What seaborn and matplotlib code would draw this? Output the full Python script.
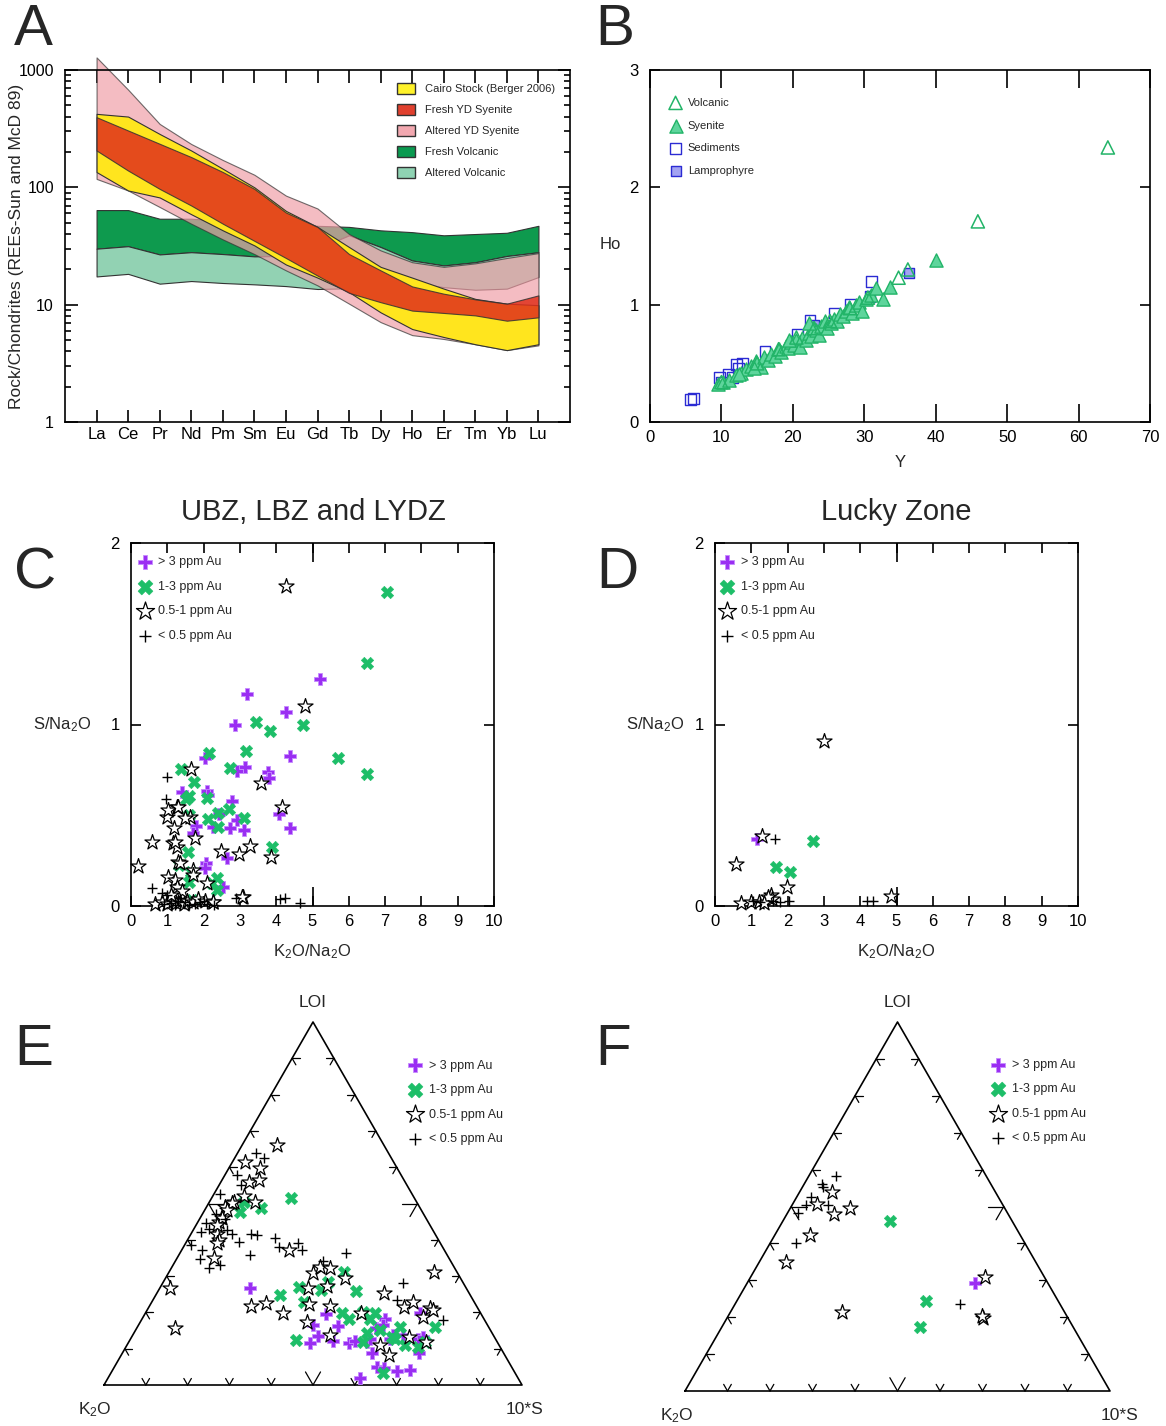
import numpy as np
import pandas as pd
import matplotlib.pyplot as plt
from matplotlib.patches import Patch
import seaborn as sns

# ---------------------------------------------------------------
# Panel A : REE envelopes (chondrite normalised), lower / upper bounds
# ---------------------------------------------------------------
ree = ['La', 'Ce', 'Pr', 'Nd', 'Pm', 'Sm', 'Eu', 'Gd', 'Tb', 'Dy', 'Ho', 'Er', 'Tm', 'Yb', 'Lu']

cairo_hi = [423, 401, 285, 206, 144, 100, 63, 46, 31, 21, 17, 13.7, 11.2, 10.2, 9.9]
cairo_lo = [135, 94, 82, 59, 43, 32, 22, 17, 12.8, 8.6, 6.2, 5.3, 4.6, 4.1, 4.6]
fresh_syen_hi = [396, 305, 235, 181, 135, 97, 61, 46, 27, 19.6, 14.3, 12.4, 11.1, 10.2, 12.0]
fresh_syen_lo = [206, 139, 97, 70, 49, 35, 25, 17.7, 12.6, 10.5, 8.9, 8.5, 8.1, 7.3, 7.8]
alt_syen_hi = [1280, 680, 347, 234, 171, 128, 85, 66, 40, 29, 23, 21, 22.5, 25, 27.5]
alt_syen_lo = [118, 94, 68, 49, 36, 27, 19.6, 14.6, 10.2, 7.1, 5.5, 5.1, 4.6, 4.1, 4.5]
fresh_volc_hi = [64, 64, 54, 54, 52, 51, 49, 47, 46, 43, 41.5, 39, 40, 41, 47]
fresh_volc_lo = [30, 31.5, 26.8, 28, 27, 25.8, 26, 30, 39, 31, 23.8, 21.6, 23, 26, 28]
alt_volc_hi = [30, 31.5, 26.8, 28, 27, 25.8, 26, 30, 39, 31, 23.8, 21.6, 23, 26, 28]
alt_volc_lo = [17.4, 18.3, 15.1, 15.9, 15.3, 14.9, 14.4, 13.6, 13.8, 14.1, 15.6, 14.1, 13.4, 13.7, 17.2]

# ---------------------------------------------------------------
# Panel B : Ho vs Y
# ---------------------------------------------------------------
volc_y = [64.1, 45.9, 34.8, 36.1, 30.5, 25.2, 15.0, 10.0, 20.5, 28.0, 23.0, 18.0]
volc_ho = [2.34, 1.71, 1.23, 1.30, 1.06, 0.86, 0.50, 0.34, 0.72, 0.97, 0.80, 0.62]
syen_y = [9.5, 10.2, 11, 12, 12.8, 13.5, 14.2, 14.8, 15.5, 16, 16.5, 17, 17.5, 18, 18.4,
          19, 19.3, 19.8, 20.2, 20.5, 21, 21.3, 21.8, 22.2, 22.5, 22.8, 23.2, 23.6, 24, 24.5,
          24.8, 25.3, 25.8, 26.2, 26.6, 27, 27.5, 27.9, 28.3, 28.8, 29.3, 29.7, 30.2, 31, 31.6,
          32.6, 33.6, 40.0, 22.3, 19.5, 12.5, 14.5]
syen_ho = [0.32, 0.34, 0.36, 0.40, 0.42, 0.45, 0.48, 0.52, 0.47, 0.55, 0.53, 0.58, 0.56, 0.62, 0.60,
           0.65, 0.63, 0.68, 0.66, 0.70, 0.64, 0.72, 0.70, 0.76, 0.73, 0.80, 0.78, 0.74, 0.82, 0.86,
           0.80, 0.84, 0.88, 0.86, 0.92, 0.90, 0.95, 0.98, 0.93, 1.00, 1.02, 0.95, 1.05, 1.08, 1.14,
           1.05, 1.15, 1.38, 0.84, 0.70, 0.41, 0.46]
sed_y = [5.7, 6.1, 9.7, 10.0, 11.0, 12.1, 12.9, 12.4, 16.1, 20.6, 22.4, 25.8, 28.1, 30.8, 31.0, 11.5]
sed_ho = [0.19, 0.20, 0.38, 0.34, 0.41, 0.49, 0.50, 0.46, 0.60, 0.75, 0.87, 0.93, 1.00, 1.07, 1.20, 0.38]
lamp_y = [36.2, 22.9]
lamp_ho = [1.27, 0.83]

# ---------------------------------------------------------------
# Panel C : UBZ, LBZ and LYDZ  (K2O/Na2O vs S/Na2O)
# ---------------------------------------------------------------
c_gt3_x = [5.21, 3.20, 4.27, 2.87, 4.39, 2.04, 3.13, 2.93, 3.77, 3.81, 1.40, 2.10, 2.13, 2.78,
           4.08, 4.39, 2.42, 2.93, 3.11, 2.74, 2.25, 1.79, 1.72, 2.64, 2.07, 2.04, 2.54]
c_gt3_y = [1.249, 1.170, 1.071, 0.995, 0.826, 0.814, 0.768, 0.744, 0.740, 0.703, 0.630, 0.635,
           0.612, 0.580, 0.505, 0.428, 0.507, 0.474, 0.419, 0.432, 0.433, 0.441, 0.404, 0.266,
           0.239, 0.208, 0.107]
c_1to3_x = [7.04, 6.51, 3.44, 3.83, 4.74, 3.16, 2.15, 5.71, 6.49, 1.38, 2.73, 1.74, 1.61, 1.52,
            2.10, 2.71, 2.41, 1.61, 3.11, 2.13, 2.41, 3.89, 1.56, 1.33, 1.64, 1.61, 2.36, 2.22,
            2.36, 1.67]
c_1to3_y = [1.732, 1.341, 1.012, 0.966, 0.997, 0.854, 0.841, 0.817, 0.725, 0.757, 0.762, 0.685,
            0.606, 0.588, 0.593, 0.533, 0.511, 0.501, 0.483, 0.477, 0.437, 0.327, 0.299, 0.226,
            0.189, 0.134, 0.152, 0.125, 0.088, 0.033]
c_half_x = [4.26, 4.78, 3.58, 1.64, 4.15, 1.26, 0.98, 1.18, 1.63, 0.57, 1.17, 1.26, 1.76, 2.47,
            2.98, 3.29, 3.85, 0.18, 1.30, 1.72, 1.03, 1.21, 3.09, 1.03, 1.30, 1.49, 1.21, 1.35,
            1.72, 2.08, 1.26, 0.65, 0.85, 1.00, 1.15, 1.25, 1.35, 1.45, 1.55, 1.70, 1.85, 2.05,
            2.25, 1.10, 1.40, 3.05, 2.27]
c_half_y = [1.763, 1.102, 0.676, 0.757, 0.547, 0.547, 0.492, 0.428, 0.492, 0.354, 0.345, 0.327,
            0.373, 0.305, 0.285, 0.331, 0.272, 0.220, 0.244, 0.198, 0.162, 0.143, 0.048, 0.529,
            0.547, 0.483, 0.355, 0.235, 0.171, 0.125, 0.107, 0.010, 0.020, 0.010, 0.030, 0.015,
            0.020, 0.010, 0.030, 0.020, 0.040, 0.030, 0.020, 0.060, 0.080, 0.050, 0.024]
c_low_x = [0.98, 0.96, 0.59, 0.85, 2.89, 4.10, 4.25, 4.66, 0.90, 1.10, 1.20, 1.30, 1.50, 1.60,
           1.75, 1.90, 2.10, 2.30, 1.35, 2.00, 0.98]
c_low_y = [0.711, 0.588, 0.097, 0.070, 0.042, 0.037, 0.042, 0.018, 0.010, 0.015, 0.005, 0.030,
           0.020, 0.005, 0.010, 0.020, 0.010, 0.005, 0.045, 0.030, 0.061]

# ---------------------------------------------------------------
# Panel D : Lucky Zone
# ---------------------------------------------------------------
d_gt3_x = [1.17]
d_gt3_y = [0.367]
d_1to3_x = [2.69, 1.68, 2.07]
d_1to3_y = [0.358, 0.216, 0.185]
d_half_x = [3.00, 1.29, 0.58, 1.97, 1.53, 4.84, 0.73, 1.00, 1.20, 1.56, 1.45, 1.35]
d_half_y = [0.909, 0.386, 0.230, 0.103, 0.060, 0.055, 0.019, 0.020, 0.020, 0.037, 0.050, 0.015]
d_low_x = [1.65, 2.04, 1.79, 4.18, 4.36, 1.06, 1.25, 1.60]
d_low_y = [0.367, 0.028, 0.024, 0.030, 0.028, 0.028, 0.020, 0.025]

# ---------------------------------------------------------------
# Panels E, F : ternary K2O - LOI - 10*S (percent; K2O = 100 - LOI - 10*S)
# ---------------------------------------------------------------
e_gt3_loi = [26.8, 19.5, 16.5, 16.2, 13.5, 11.7, 12.2, 11.7, 12.2, 11.9, 8.9, 15.6, 18.3, 16.5,
             19.9, 12.6, 8.7, 13.8, 5.0, 4.6, 3.9, 4.1, 2.0, 13.3, 12.8, 13.8, 12.6]
e_gt3_s = [21.6, 43.4, 41.7, 48.0, 44.4, 43.5, 48.6, 52.7, 54.0, 56.9, 59.6, 57.3, 58.1, 58.6,
           65.7, 68.9, 70.9, 64.7, 62.9, 64.7, 68.1, 71.1, 60.3, 69.7, 62.0, 62.3, 57.3]
e_1to3_loi = [51.4, 48.8, 50.5, 47.7, 31.2, 28.4, 27.1, 26.3, 26.0, 24.8, 22.9, 12.4, 19.7, 18.2,
              20.2, 19.7, 18.3, 14.2, 15.1, 13.3, 16.1, 11.0, 10.6, 16.1, 3.2, 12.6, 11.9, 11.9]
e_1to3_s = [19.0, 13.2, 8.2, 8.8, 41.9, 39.3, 33.0, 38.8, 47.3, 29.8, 36.5, 39.8, 47.2, 49.4,
            51.8, 55.0, 54.5, 55.7, 58.5, 62.2, 62.8, 66.5, 69.9, 71.2, 65.2, 63.3, 70.8, 56.1]
e_half_loi = [66.1, 61.5, 59.8, 55.8, 56.4, 52.1, 50.5, 50.5, 48.9, 45.0, 41.7, 39.9, 37.2, 34.9,
              26.6, 15.6, 21.7, 22.5, 19.7, 30.9, 32.4, 32.1, 29.6, 27.2, 26.6, 22.3, 21.7, 17.4,
              13.8, 19.7, 25.4, 11.0, 8.4, 31.2, 21.4, 22.9, 18.8, 21.1, 20.6, 11.9, 13.3,
              50.2, 48.2, 45.9, 44.0, 39.0]
e_half_s = [8.3, 3.1, 7.5, 6.7, 8.8, 7.4, 5.8, 10.8, 4.6, 5.0, 6.3, 7.6, 25.6, 8.9, 2.6, 9.3,
            24.2, 27.6, 33.0, 34.5, 35.5, 38.0, 42.9, 39.7, 35.6, 37.8, 43.1, 39.8, 47.2, 51.6,
            54.3, 60.5, 64.1, 63.4, 61.1, 62.4, 67.0, 67.5, 68.4, 71.1, 66.2,
            5.5, 5.3, 5.3, 5.1, 7.6]
e_low_loi = [63.8, 62.4, 57.8, 55.2, 52.5, 42.2, 43.1, 44.5, 38.5, 37.2, 34.7, 32.1, 33.0, 42.7,
             41.7, 39.4, 41.7, 41.3, 35.8, 40.4, 38.1, 39.2, 37.3, 36.4, 34.2, 28.2, 23.4, 17.9,
             45.6, 47.2]
e_low_s = [4.5, 7.0, 2.9, 5.2, 1.6, 2.0, 3.5, 2.1, 1.5, 4.9, 5.7, 9.0, 11.3, 8.1, 9.8, 12.5,
           14.2, 16.0, 17.1, 20.8, 22.8, 26.9, 28.7, 39.7, 35.4, 57.5, 58.3, 72.2, 6.2, 3.1]

f_gt3_loi = [29.2]
f_gt3_s = [53.6]
f_1to3_loi = [46.1, 24.5, 17.4]
f_1to3_s = [25.3, 44.4, 46.6]
f_half_loi = [53.9, 50.7, 47.9, 49.7, 42.3, 34.9, 21.3, 30.8, 19.8, 20.2]
f_half_s = [7.7, 5.6, 11.1, 14.0, 8.3, 6.3, 26.4, 55.2, 60.1, 59.8]
f_low_loi = [58.2, 56.2, 55.4, 52.7, 50.3, 50.5, 48.2, 40.2, 23.6]
f_low_s = [6.4, 4.2, 4.8, 3.3, 3.3, 8.3, 2.6, 5.9, 52.9]

au_labels = ['> 3 ppm Au', '1-3 ppm Au', '0.5-1 ppm Au', '< 0.5 ppm Au']

# ---------------------------------------------------------------
sns.set_style("ticks")
plt.rcParams['font.family'] = ['Liberation Sans', 'DejaVu Sans']
plt.rcParams['mathtext.default'] = 'regular'
plt.rcParams['axes.linewidth'] = 1.2
plt.rcParams['axes.edgecolor'] = 'black'
plt.rcParams['xtick.color'] = 'black'
plt.rcParams['ytick.color'] = 'black'

W, H = 1166, 1426
fig = plt.figure(figsize=(W / 100, H / 100), dpi=100)


def box(l, t, r, b):
    return [l / W, 1 - b / H, (r - l) / W, (b - t) / H]


AU_STYLE = [
    dict(marker='P', s=80, color='#9A2EF2', edgecolor='#C58CFF', linewidth=0.6),
    dict(marker='X', s=80, color='#1DBE68', edgecolor='#1DBE68', linewidth=0.4),
    dict(marker='*', s=130, color='white', edgecolor='black', linewidth=0.9),
    dict(marker='+', s=60, color='black', linewidth=1.0),
]


def plot_au(ax, groups):
    for (gx, gy), lab, st in zip(groups, au_labels, AU_STYLE):
        sns.scatterplot(x=gx, y=gy, ax=ax, label=lab, clip_on=False, zorder=3, **st)


def au_legend(ax, x0, y0):
    ax.legend(loc='upper left', bbox_to_anchor=(x0, y0), frameon=False, fontsize=9,
              handletextpad=0.6, labelspacing=1.0, borderpad=0, borderaxespad=0,
              handlelength=1.0, scatterpoints=1, markerscale=1.2)


# ======================= Panel A =======================
axA = fig.add_axes(box(65, 70, 570, 422))
xi = np.arange(len(ree))
bands = [
    (fresh_volc_lo, fresh_volc_hi, '#0E9A4E', 1.0),
    (alt_volc_lo, alt_volc_hi, '#92D2B3', 1.0),
    (alt_syen_lo, alt_syen_hi, '#F0A0A8', 0.7),
    (cairo_lo, cairo_hi, '#FFE51E', 1.0),
    (fresh_syen_lo, fresh_syen_hi, '#E0301C', 0.85),
]
for lo, hi, col, a in bands:
    axA.fill_between(xi, lo, hi, facecolor=col, alpha=a, edgecolor='#333333',
                     linewidth=0.8, clip_on=False)
axA.set_yscale('log')
axA.set_ylim(1, 1000)
axA.set_xlim(-1, 15)
axA.set_xticks(xi, ree)
axA.set_yticks([1, 10, 100, 1000], ['1', '10', '100', '1000'])
axA.tick_params(which='both', direction='in', top=True, right=True, width=1.2)
axA.tick_params(which='major', length=9, labelsize=12)
axA.tick_params(axis='y', which='major', pad=8, labelsize=11.5)
axA.tick_params(which='minor', length=4.5)
axA.set_ylabel('Rock/Chondrites (REEs-Sun and McD 89)', fontsize=12.5, va='center')
axA.yaxis.set_label_coords(-0.097, 0.5)
legA = [Patch(facecolor='#FFF22A', edgecolor='#333333', label='Cairo Stock (Berger 2006)'),
        Patch(facecolor='#E0402E', edgecolor='#333333', label='Fresh YD Syenite'),
        Patch(facecolor='#F2A8B0', edgecolor='#333333', label='Altered YD Syenite'),
        Patch(facecolor='#0A9A50', edgecolor='#333333', label='Fresh Volcanic'),
        Patch(facecolor='#8FD3B3', edgecolor='#333333', label='Altered Volcanic')]
axA.legend(handles=legA, loc='upper left', bbox_to_anchor=(0.657, 0.963), frameon=False,
           fontsize=8, handlelength=1.6, handleheight=1.2, handletextpad=0.9,
           labelspacing=0.85, borderpad=0, borderaxespad=0)

# ======================= Panel B =======================
axB = fig.add_axes(box(650, 70, 1150, 422))
sns.scatterplot(x=sed_y, y=sed_ho, marker='s', s=60, facecolor='none', edgecolor='#2B2BD3',
                linewidth=1.0, label='Sediments', ax=axB)
sns.scatterplot(x=lamp_y, y=lamp_ho, marker='s', s=60, color='#A3A3F2', edgecolor='#2B2BD3',
                linewidth=1.0, label='Lamprophyre', ax=axB)
sns.scatterplot(x=syen_y, y=syen_ho, marker='^', s=90, color='#5ED59C', edgecolor='#22B468',
                linewidth=1.0, label='Syenite', ax=axB)
sns.scatterplot(x=volc_y, y=volc_ho, marker='^', s=90, facecolor='none', edgecolor='#22B468',
                linewidth=1.1, label='Volcanic', ax=axB)
axB.set_xlim(0, 70)
axB.set_ylim(0, 3)
axB.set_xticks(range(0, 71, 10))
axB.set_yticks([0, 1, 2, 3])
axB.tick_params(direction='in', top=True, right=True, width=1.2, labelsize=12)
axB.tick_params(axis='x', length=13, pad=6)
axB.tick_params(axis='y', length=7, pad=8)
axB.set_xlabel('Y', fontsize=12, va='center')
axB.xaxis.set_label_coords(0.5, -0.116)
axB.set_ylabel('Ho', fontsize=12, rotation=0, ha='center', va='center')
axB.yaxis.set_label_coords(-0.08, 0.503)
hB, lB = axB.get_legend_handles_labels()
orderB = ['Volcanic', 'Syenite', 'Sediments', 'Lamprophyre']
hB = [hB[lB.index(n)] for n in orderB]
axB.legend(hB, orderB, loc='upper left', bbox_to_anchor=(0.04, 0.921), frameon=False,
           fontsize=8, handletextpad=0.6, labelspacing=1.15, borderpad=0, borderaxespad=0,
           handlelength=1.0, scatterpoints=1)

# ======================= Panels C, D =======================
axC = fig.add_axes(box(131, 543, 494, 906))
axD = fig.add_axes(box(715, 543, 1078, 906))
plot_au(axC, [(c_gt3_x, c_gt3_y), (c_1to3_x, c_1to3_y), (c_half_x, c_half_y), (c_low_x, c_low_y)])
plot_au(axD, [(d_gt3_x, d_gt3_y), (d_1to3_x, d_1to3_y), (d_half_x, d_half_y), (d_low_x, d_low_y)])
for ax, ylx in ((axC, -0.19), (axD, -0.165)):
    ax.set_xlim(0, 10)
    ax.set_ylim(0, 2)
    ax.set_xticks(range(11))
    ax.set_yticks([0, 1, 2])
    ax.set_xticks([5], minor=True)
    ax.xaxis.remove_overlapping_locs = False
    ax.tick_params(which='both', direction='in', top=True, right=True, width=1.2, labelsize=12)
    ax.tick_params(which='major', length=7)
    ax.tick_params(axis='x', which='minor', length=14)
    ax.tick_params(axis='x', pad=6)
    ax.tick_params(axis='y', pad=8)
    ax.set_xlabel('K$_2$O/Na$_2$O', fontsize=12, va='center')
    ax.xaxis.set_label_coords(0.5, -0.127)
    ax.set_ylabel('S/Na$_2$O', fontsize=12, rotation=0, ha='center', va='center')
    ax.yaxis.set_label_coords(ylx, 0.5)
au_legend(axC, 0.02, 0.963)
au_legend(axD, 0.017, 0.963)
fig.text(313 / W, 1 - 512 / H, 'UBZ, LBZ and LYDZ', fontsize=21, ha='center', va='center')
fig.text(896 / W, 1 - 512 / H, 'Lucky Zone', fontsize=21, ha='center', va='center')

# ======================= Panels E, F (ternary) =======================
SQ3 = np.sqrt(3) / 2


def tern_xy(loi, s):
    loi = np.asarray(loi) / 100.0
    s = np.asarray(s) / 100.0
    return s + loi / 2.0, loi * SQ3


def tern_frame(ax):
    ax.plot([0, 1, 0.5, 0], [0, 0, SQ3, 0], color='black', lw=1.2, clip_on=False)
    edges = [((0, 0), (1, 0), [(0.5, SQ3), (-0.5, SQ3)]),
             ((1, 0), (0.5, SQ3), [(-1, 0), (-0.5, -SQ3)]),
             ((0, 0), (0.5, SQ3), [(1, 0), (0.5, -SQ3)])]
    for p0, p1, dirs in edges:
        for t in np.arange(1, 10) / 10.0:
            px = p0[0] + t * (p1[0] - p0[0])
            py = p0[1] + t * (p1[1] - p0[1])
            L = 0.036 if np.isclose(t, 0.5) else 0.018
            for dx, dy in dirs:
                ax.plot([px, px + L * dx], [py, py + L * dy], color='black', lw=0.9,
                        clip_on=False)
    ax.set_xlim(0, 1)
    ax.set_ylim(0, SQ3)
    ax.axis('off')


axE = fig.add_axes(box(104, 1022, 522, 1385))
axF = fig.add_axes(box(685, 1022, 1110, 1391))
plot_au(axE, [tern_xy(e_gt3_loi, e_gt3_s), tern_xy(e_1to3_loi, e_1to3_s),
              tern_xy(e_half_loi, e_half_s), tern_xy(e_low_loi, e_low_s)])
plot_au(axF, [tern_xy(f_gt3_loi, f_gt3_s), tern_xy(f_1to3_loi, f_1to3_s),
              tern_xy(f_half_loi, f_half_s), tern_xy(f_low_loi, f_low_s)])
for ax, xk, xs in ((axE, -0.022, 1.007), (axF, -0.019, 1.023)):
    tern_frame(ax)
    ax.text(0.5, 0.912, 'LOI', fontsize=12.5, ha='center', va='center')
    ax.text(xk, -0.058, 'K$_2$O', fontsize=12.5, ha='center', va='center')
    ax.text(xs, -0.058, '10*S', fontsize=12.5, ha='center', va='center')
au_legend(axE, 0.73, 0.896)
au_legend(axF, 0.722, 0.9)

# ======================= panel letters =======================
for letter, px, py in [('A', 33, 30), ('B', 615, 30), ('C', 35, 573), ('D', 617, 573),
                       ('E', 34, 1050), ('F', 613, 1050)]:
    fig.text(px / W, 1 - py / H, letter, fontsize=42, ha='center', va='center')

fig.savefig('out.png', dpi=100)
